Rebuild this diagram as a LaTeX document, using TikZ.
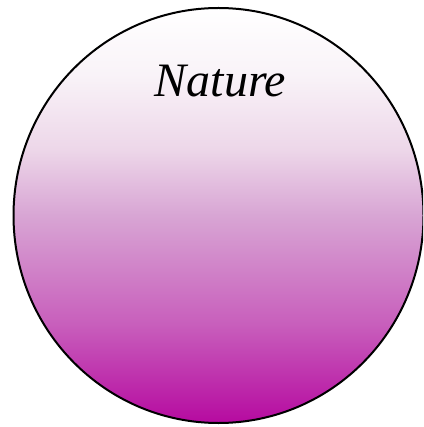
\documentclass[tikz,border=0pt]{standalone}
\usepackage{fontspec}
\setmainfont{Liberation Serif}
\definecolor{natMag}{RGB}{182,10,160}
\definecolor{natQ}{RGB}{200,95,188}
\definecolor{natMid}{RGB}{216,165,212}
\definecolor{natHi}{RGB}{237,215,233}
\definecolor{natTop}{RGB}{249,243,248}
\pgfdeclareverticalshading{natshade}{100bp}{color(0bp)=(natMag); color(25bp)=(natMag); color(37bp)=(natQ); color(50bp)=(natMid); color(58bp)=(natHi); color(67bp)=(natTop); color(75bp)=(white); color(100bp)=(white)}
\tikzset{
  bubble/.style={draw=black, line width=2pt, shading=natshade, ellipse, minimum width=410pt, minimum height=415pt, inner sep=0pt},
  title/.style={font=\itshape\fontsize{48}{52}\selectfont, anchor=base, inner sep=0pt}
}
\usetikzlibrary{shapes.geometric}
\begin{document}
\begin{tikzpicture}[x=1pt,y=1pt]
\useasboundingbox (0,0) rectangle (423,-427);
\begin{scope}
\clip (0,0) rectangle (423,-427);
\node[bubble] (nature) at (218.5,-215.5) {};
\end{scope}
\node[title] (label) at (220.5,-97) {Nature};
\end{tikzpicture}
\end{document}
